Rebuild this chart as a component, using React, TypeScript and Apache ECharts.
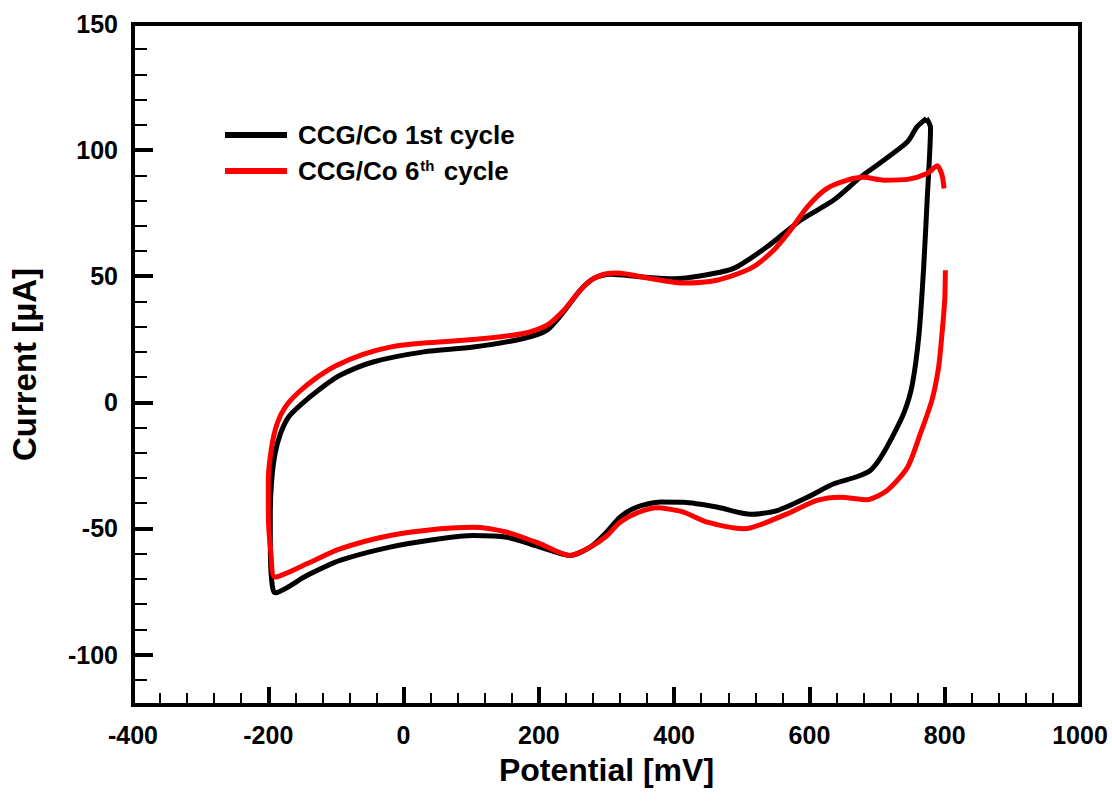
import React, { useEffect, useRef } from "react";
import * as echarts from "echarts";

// Potential [mV] / Current [µA] pairs, in sweep order
const cycle1X = [773, 779, 778, 774, 769, 762, 752, 740, 722, 705, 690, 670, 636, 597, 552, 513, 463, 414, 380, 345, 320, 300, 276, 246, 202, 153, 103, 54, -20, -94, -143, -190, -195, -197, -197, -195, -190, -182, -170, -153, -126, -94, -45, 30, 103, 177, 212, 237, 261, 281, 306, 350, 400, 440, 488, 537, 587, 636, 676, 710, 745, 759, 773];
const cycle1Y = [112.6, 109, 100, 80, 54, 27, 7, -4, -14, -22, -27, -29.5, -32.3, -37.6, -42.9, -44.4, -41.5, -39.6, -39.5, -41.5, -45.5, -51.5, -57.4, -60.7, -57.4, -53.5, -52.8, -54.1, -57.4, -62.7, -68.7, -75.5, -70.6, -57.4, -44.2, -31, -20.4, -12.4, -5.8, -1.2, 4.8, 10.7, 16, 20, 21.9, 25.3, 28.6, 36, 44.4, 49.1, 50.8, 49.8, 49, 50.2, 53.1, 61.6, 72.2, 80.2, 89.4, 96, 103.3, 109.2, 112.6];

const cycle6X = [801, 800, 796, 791, 781, 764, 745, 715, 685, 646, 611, 567, 503, 449, 414, 390, 375, 345, 320, 300, 276, 246, 202, 153, 103, 54, -20, -94, -143, -190, -196, -200, -200, -195, -187, -175, -156, -130, -100, -60, -20, 30, 103, 177, 212, 237, 261, 281, 300, 316, 365, 414, 463, 513, 547, 572, 597, 626, 656, 680, 710, 745, 774, 789, 796, 799];
const cycle6Y = [52.4, 40.5, 27.3, 14, 0.8, -12.4, -25.7, -34.9, -38.6, -37.6, -38.9, -44.2, -50.1, -47.5, -43.5, -42.2, -41.8, -43.8, -47.5, -53, -57.4, -60.7, -56.1, -51.5, -49.5, -50.1, -52.8, -58.1, -64, -69.3, -60, -44.2, -31, -17.7, -8.5, -1.9, 3.8, 9.5, 14.5, 19, 21.9, 23.5, 24.9, 27.3, 30.6, 36.5, 44.4, 49.1, 51, 51.3, 49.1, 47.3, 48.4, 53.1, 60.3, 68.3, 77.5, 84.8, 88.1, 89.2, 88.1, 88.4, 90.7, 93.8, 90.1, 84.8];

const seriesNames = ["CCG/Co 1st cycle", "CCG/Co 6th cycle"];
const seriesColors = ["#000000", "#ff0000"];

const xMin = -400;
const xMax = 1000;
const xInterval = 200;
const yMin = -120;
const yMax = 150;
const yMajorTicks = [-100, -50, 0, 50, 100, 150];
const yMinorTicks = [-110, -90, -80, -70, -60, -40, -30, -20, -10, 10, 20, 30, 40, 60, 70, 80, 90, 110, 120, 130, 140];

const FONT = "Liberation Sans, Arial, sans-serif";

function pairs(xs: number[], ys: number[]) {
  return xs.map((x, i) => [x, ys[i]]);
}

export default function App() {
  const ref = useRef<HTMLDivElement>(null);
  useEffect(() => {
    if (!ref.current) return;
    const chart = echarts.init(ref.current, null, { renderer: "svg" });
    chart.setOption({
      animation: false,
      backgroundColor: "#ffffff",
      grid: {
        left: 133,
        right: 32,
        top: 24,
        bottom: 103,
        outerBoundsMode: "none",
        containLabel: false,
        show: true,
        borderColor: "#000",
        borderWidth: 4,
        backgroundColor: "transparent",
      },
      legend: {
        orient: "vertical",
        left: 220,
        top: 117,
        itemWidth: 62,
        itemHeight: 6,
        itemGap: 10,
        icon: "rect",
        data: seriesNames,
        formatter: (name: string) =>
          name === seriesNames[1]
            ? "{a|CCG/Co 6}{sup|th}{a| cycle}"
            : "{a|" + name + "}",
        textStyle: {
          padding: [0, 0, 0, 6],
          rich: {
            a: { fontFamily: FONT, fontWeight: "bold", fontSize: 26, lineHeight: 26, color: "#000" },
            sup: { fontFamily: FONT, fontWeight: "bold", fontSize: 15, lineHeight: 26, verticalAlign: "top", padding: [0, 2, 8, 1], color: "#000" },
          },
        },
      },
      xAxis: {
        type: "value",
        min: xMin,
        max: xMax,
        interval: xInterval,
        name: "Potential [mV]",
        nameLocation: "middle",
        nameGap: 49,
        nameTextStyle: { fontFamily: FONT, fontWeight: "bold", fontSize: 32, color: "#000" },
        axisLine: { show: true, onZero: false, lineStyle: { color: "#000", width: 4 } },
        axisTick: { show: true, inside: true, length: 18, lineStyle: { color: "#000", width: 4 } },
        minorTick: { show: true, splitNumber: 5, length: 12, lineStyle: { color: "#000", width: 2 } },
        splitLine: { show: false },
        minorSplitLine: { show: false },
        axisLabel: { margin: 17, formatter: (v: number) => String(v), fontFamily: FONT, fontWeight: "bold", fontSize: 25, color: "#000" },
      },
      yAxis: [
        {
          type: "value",
          min: yMin,
          max: yMax,
          name: "Current [µA]",
          nameLocation: "middle",
          nameGap: 92,
          nameRotate: 90,
          nameTextStyle: { fontFamily: FONT, fontWeight: "bold", fontSize: 33, color: "#000" },
          axisLine: { show: true, onZero: false, lineStyle: { color: "#000", width: 4 } },
          axisTick: { show: true, inside: true, length: 20, customValues: yMajorTicks, lineStyle: { color: "#000", width: 4 } },
          splitLine: { show: false },
          axisLabel: { margin: 15, customValues: yMajorTicks, formatter: (v: number) => String(v), fontFamily: FONT, fontWeight: "bold", fontSize: 25, color: "#000" },
        },
        {
          type: "value",
          min: yMin,
          max: yMax,
          position: "left",
          offset: 0,
          axisLine: { show: false, onZero: false },
          axisTick: { show: true, inside: true, length: 14, customValues: yMinorTicks, lineStyle: { color: "#000", width: 2 } },
          splitLine: { show: false },
          axisLabel: { show: false },
        },
      ],
      series: [
        {
          name: seriesNames[0],
          type: "line",
          data: pairs(cycle1X, cycle1Y),
          showSymbol: false,
          symbol: "none",
          smooth: 0.25,
          color: seriesColors[0],
          lineStyle: { color: seriesColors[0], width: 5 },
          z: 2,
        },
        {
          name: seriesNames[1],
          type: "line",
          data: pairs(cycle6X, cycle6Y),
          showSymbol: false,
          symbol: "none",
          smooth: 0.25,
          color: seriesColors[1],
          lineStyle: { color: seriesColors[1], width: 5 },
          z: 3,
        },
      ],
    });
    return () => chart.dispose();
  }, []);
  return (
    <div
      ref={ref}
      style={{ position: "fixed", left: 0, top: 0, width: 1112, height: 808, background: "#fff" }}
    />
  );
}
